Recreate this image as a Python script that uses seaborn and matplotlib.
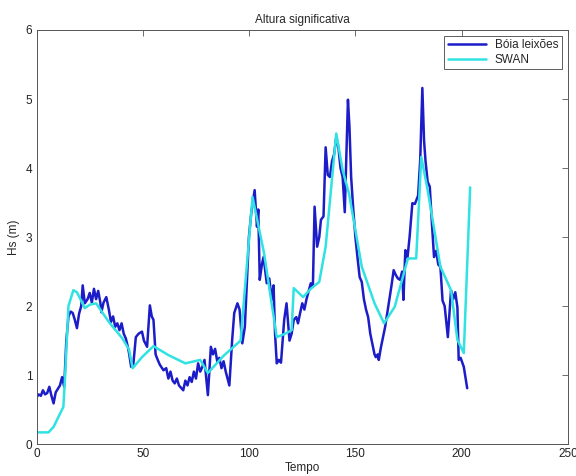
import matplotlib
matplotlib.use("Agg")
import matplotlib.pyplot as plt
import pandas as pd
import seaborn as sns

# buoy record (Bóia leixões)
buoy_t = [0, 1, 2, 3, 4, 5, 6, 7, 8, 9, 10, 11, 12, 13, 14, 15, 16, 17, 18, 19,
          20, 21, 21.7, 22.7, 24, 25, 26, 27, 28, 29, 30, 30.5, 31.5, 32.8, 34, 35,
          36, 37, 38, 39, 40, 41, 42, 43, 43.5, 44.5, 45.5, 46.7, 48, 49.6, 50.5,
          52, 53.3, 54.2, 55, 56, 57, 58, 59.7, 61, 62, 63, 64, 65, 66, 67, 69, 70,
          71, 72, 73, 74, 75, 76, 77, 78, 79, 80.6, 82, 83, 84, 85, 86, 87, 88, 89,
          90.7, 92, 93, 94.5, 95.5, 96.8, 98, 99.9, 101, 102.6, 103.7, 104.3,
          105, 106, 106.8, 108.3, 109.5, 110.6, 111.5, 112.2, 113, 114, 115, 116.5,
          117.6, 119, 120, 121, 122.2, 123, 124, 125, 126, 127, 129, 130, 130.8,
          132, 133, 133.8, 135, 136, 137, 138, 139, 140, 141, 142, 143, 144, 145,
          146.5, 147.2, 148, 149, 150, 151, 152, 153, 154, 155, 156, 157, 158, 159,
          159.6, 160.5, 161, 162, 163, 164, 165, 166, 167, 168, 169, 170, 171, 172,
          172.6, 173.5, 174.5, 175.5, 176.8, 178, 179.5, 180.5, 181.5, 182.3, 183,
          184, 185, 186, 187, 188, 189, 190, 191, 192, 193.5, 194.5, 195, 196, 197,
          198, 198.6, 199.5, 201, 202.6]
buoy_hs = [0.68, 0.72, 0.70, 0.78, 0.72, 0.74, 0.83, 0.70, 0.59, 0.75, 0.80, 0.85,
           0.97, 0.83, 1.50, 1.85, 1.92, 1.90, 1.80, 1.68, 1.89, 2.00, 2.30, 2.04,
           2.10, 2.19, 2.05, 2.25, 2.10, 2.22, 2.05, 1.91, 2.05, 2.13, 1.95, 1.77,
           1.85, 1.70, 1.75, 1.65, 1.75, 1.60, 1.53, 1.40, 1.32, 1.12, 1.15, 1.55,
           1.60, 1.63, 1.50, 1.41, 2.01, 1.85, 1.80, 1.30, 1.22, 1.15, 1.07, 1.10,
           0.95, 1.05, 0.92, 0.88, 0.95, 0.85, 0.78, 0.92, 0.85, 0.97, 0.90, 1.05,
           0.95, 1.17, 1.05, 1.12, 1.22, 0.71, 1.41, 1.30, 1.38, 1.20, 1.25, 1.10,
           1.20, 1.05, 0.85, 1.50, 1.90, 2.04, 1.95, 1.46, 1.70, 3.00, 3.35, 3.68,
           3.15, 3.40, 2.38, 2.60, 2.71, 2.33, 2.40, 2.09, 2.30, 1.60, 1.17, 1.22,
           1.18, 1.80, 2.04, 1.50, 1.60, 1.80, 1.84, 1.75, 1.90, 2.04, 1.95, 2.10,
           2.33, 2.28, 3.44, 2.86, 3.00, 3.25, 3.30, 4.30, 3.90, 3.87, 4.10, 4.20,
           4.45, 4.30, 4.00, 3.87, 3.36, 4.99, 4.60, 3.87, 3.40, 3.00, 2.70, 2.42,
           2.35, 2.10, 1.95, 1.84, 1.60, 1.45, 1.30, 1.26, 1.30, 1.22, 1.40, 1.55,
           1.70, 1.90, 2.10, 2.30, 2.52, 2.45, 2.40, 2.38, 2.50, 2.09, 2.81, 2.70,
           3.00, 3.49, 3.48, 3.60, 4.12, 5.16, 4.40, 4.10, 3.80, 3.73, 3.20, 2.71,
           2.80, 2.60, 2.57, 2.08, 2.00, 1.55, 2.00, 2.23, 2.10, 2.20, 1.98, 1.22,
           1.25, 1.12, 0.81]

# SWAN model
swan_t = [0, 5.6, 8, 12.6, 13.4, 15, 17.3, 19, 22.7, 25, 28, 34, 40.4, 43.5, 45.2,
          49.6, 55, 62, 70, 77, 80.6, 88, 96, 101.6, 107, 113, 117, 120, 121,
          125.4, 129, 133, 136, 141, 144, 147, 153, 159, 163.5, 168.5, 174.7, 178.6,
          181, 184, 190, 195, 198, 201, 204]
swan_hs = [0.17, 0.17, 0.25, 0.54, 0.97, 2.00, 2.23, 2.20, 1.97, 2.02, 2.04, 1.77,
           1.53, 1.37, 1.10, 1.26, 1.42, 1.29, 1.17, 1.22, 1.03, 1.28, 1.50, 3.58,
           2.77, 1.55, 1.60, 1.65, 2.26, 2.13, 2.25, 2.35, 2.86, 4.50, 3.97, 3.63,
           2.57, 2.04, 1.75, 1.99, 2.69, 2.69, 4.16, 3.68, 2.57, 2.23, 1.51, 1.32, 3.72]

x_ticks = [0, 50, 100, 150, 200, 250]
y_ticks = [0, 1, 2, 3, 4, 5, 6]

df = pd.concat([
    pd.DataFrame({"t": buoy_t, "hs": buoy_hs, "serie": "Bóia leixões"}),
    pd.DataFrame({"t": swan_t, "hs": swan_hs, "serie": "SWAN"}),
], ignore_index=True)

sns.set_theme(style="white")
plt.rcParams["font.family"] = ["Liberation Sans", "DejaVu Sans"]

fig = plt.figure(figsize=(5.76, 4.76), dpi=100)
ax = fig.add_axes([0.0635, 0.067, 0.9225, 0.870])

sns.lineplot(data=df, x="t", y="hs", hue="serie", sort=False, estimator=None,
             palette={"Bóia leixões": "#1c1cc8", "SWAN": "#30e2e2"},
             linewidth=1.8, ax=ax)

ax.set_xlim(0, 250)
ax.set_ylim(0, 6)
ax.set_xticks(x_ticks)
ax.set_yticks(y_ticks)
ax.tick_params(direction="in", length=4, width=0.6, colors="#555555",
               labelsize=8.5, labelcolor="#222222", top=True, right=True, pad=3)
for s in ax.spines.values():
    s.set_color("#555555")
    s.set_linewidth(0.7)

ax.set_title("Altura significativa", fontsize=8.5, pad=5)
ax.set_xlabel("Tempo", fontsize=8.5, labelpad=1)
ax.set_ylabel("Hs (m)", fontsize=8.5, labelpad=4)

leg = ax.legend(loc="upper right", fontsize=8.5, frameon=True, fancybox=False,
                borderaxespad=0.5, handlelength=3.2, borderpad=0.3,
                labelspacing=0.2, title=None)
leg.get_frame().set_edgecolor("#333333")
leg.get_frame().set_linewidth(0.7)

fig.savefig("out.png", dpi=100)
